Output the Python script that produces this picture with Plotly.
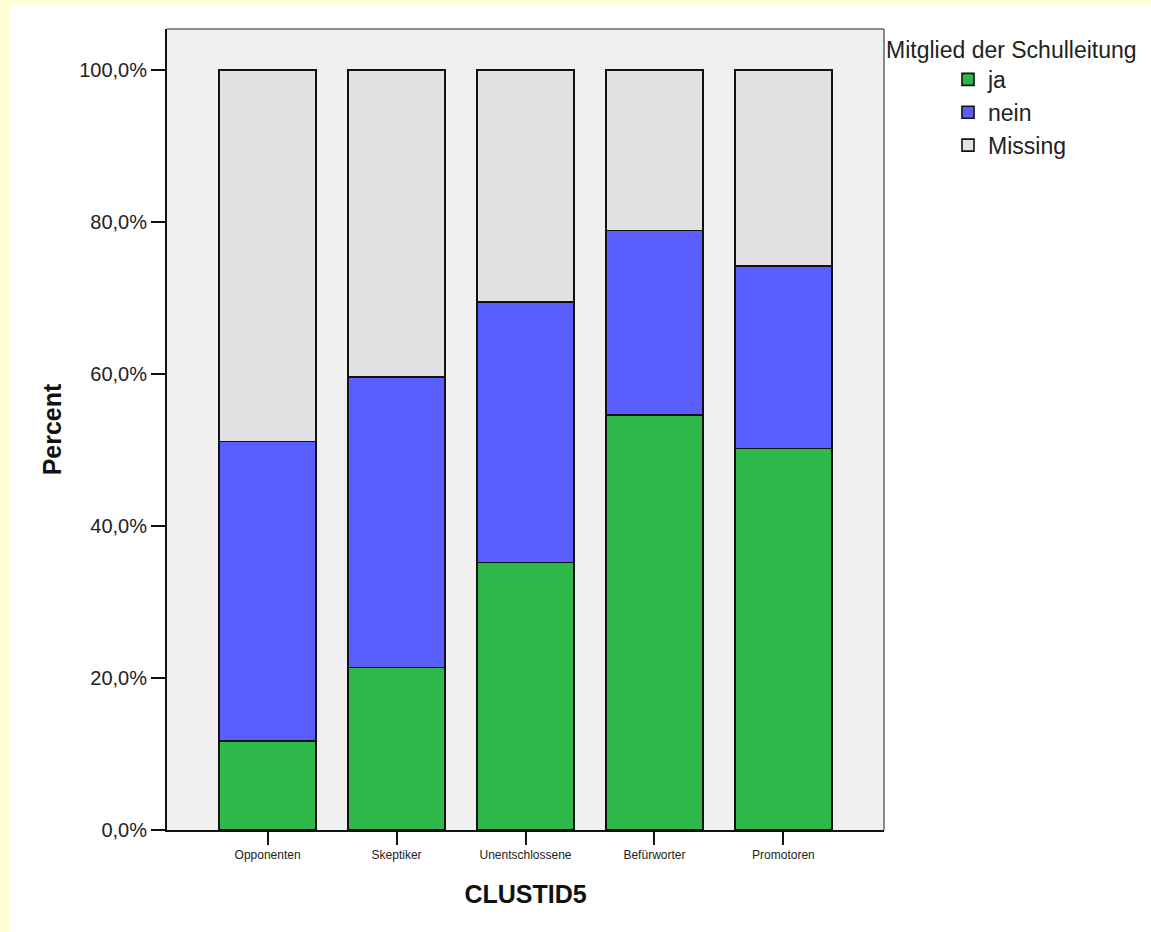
import plotly.graph_objects as go

categories = ["Opponenten", "Skeptiker", "Unentschlossene", "Befürworter", "Promotoren"]
ja = [11.7, 21.4, 35.2, 54.6, 50.2]
nein = [39.4, 38.2, 34.3, 24.3, 24.0]
missing = [48.9, 40.4, 30.5, 21.1, 25.8]
series_names = ["ja", "nein", "Missing"]
series_values = [ja, nein, missing]
series_colors = ["#2EB84A", "#5A5EFF", "#E2E2E2"]
ytick_vals = [0, 20, 40, 60, 80, 100]
ytick_text = ["0,0%", "20,0%", "40,0%", "60,0%", "80,0%", "100,0%"]

W, H = 1151, 932
L, R, T, B = 167, 267, 29, 102
PW, PH = W - L - R, H - T - B


def px_x(p):
    return (p - L) / PW


def px_y(p):
    return (H - B - p) / PH


fig = go.Figure()
for name, vals, col in zip(series_names, series_values, series_colors):
    fig.add_trace(go.Bar(
        x=categories, y=vals, name=name,
        marker=dict(color=col, line=dict(color="#111111", width=1.6)),
    ))

FONT = "Liberation Sans, Arial, sans-serif"
YELLOW = "#FFFFD4"

fig.update_layout(
    width=W, height=H,
    margin=dict(l=L, r=R, t=T, b=B, pad=0, autoexpand=False),
    barmode="stack", bargap=0.25,
    paper_bgcolor="white", plot_bgcolor="#F0F0F0",
    font=dict(family=FONT, color="#222222"),
    showlegend=True,
    legend=dict(
        title=dict(text="Mitglied der Schulleitung", font=dict(size=23, color="#222222")),
        font=dict(size=23, color="#222222"),
        traceorder="normal",
        x=px_x(884), xanchor="left", y=px_y(28), yanchor="top",
        indentation=64, bgcolor="rgba(0,0,0,0)",
    ),
    xaxis=dict(
        range=[-0.78, 4.78], showgrid=False, zeroline=False,
        showline=True, linecolor="#111111", linewidth=2,
        ticks="outside", ticklen=13, tickwidth=1.5, tickcolor="#111111",
        tickfont=dict(size=12, family="Liberation Sans Narrow, Liberation Sans, Arial", color="#222222"),
        title=dict(text="<b>CLUSTID5</b>", font=dict(size=25, color="#111111"), standoff=24),
    ),
    yaxis=dict(
        range=[0, 105.4], showgrid=False, zeroline=False,
        showline=True, linecolor="#111111", linewidth=2,
        ticks="outside", ticklen=14, tickwidth=2, tickcolor="#111111",
        tickvals=ytick_vals, ticktext=ytick_text,
        tickfont=dict(size=20, color="#222222"),
        title=dict(text="<b>Percent</b>", font=dict(size=25, color="#111111"), standoff=10),
    ),
    shapes=[
        # yellow frame strips (left and top)
        dict(type="rect", xref="paper", yref="paper", x0=px_x(0), x1=px_x(10), y0=px_y(H), y1=px_y(0),
             fillcolor=YELLOW, line=dict(width=0), layer="below"),
        dict(type="rect", xref="paper", yref="paper", x0=px_x(0), x1=px_x(W), y0=px_y(5), y1=px_y(0),
             fillcolor=YELLOW, line=dict(width=0), layer="below"),
        # top and right frame of the plot area
        dict(type="line", xref="paper", yref="paper", x0=0, x1=1, y0=1, y1=1,
             line=dict(color="#666666", width=1.5), layer="above"),
        dict(type="line", xref="paper", yref="paper", x0=1, x1=1, y0=0, y1=1,
             line=dict(color="#666666", width=1.5), layer="above"),
    ],
)

fig.write_html(
    "out.html",
    config={"displayModeBar": False},
    post_script="document.body.style.margin='0';document.body.style.overflow='hidden';",
)
